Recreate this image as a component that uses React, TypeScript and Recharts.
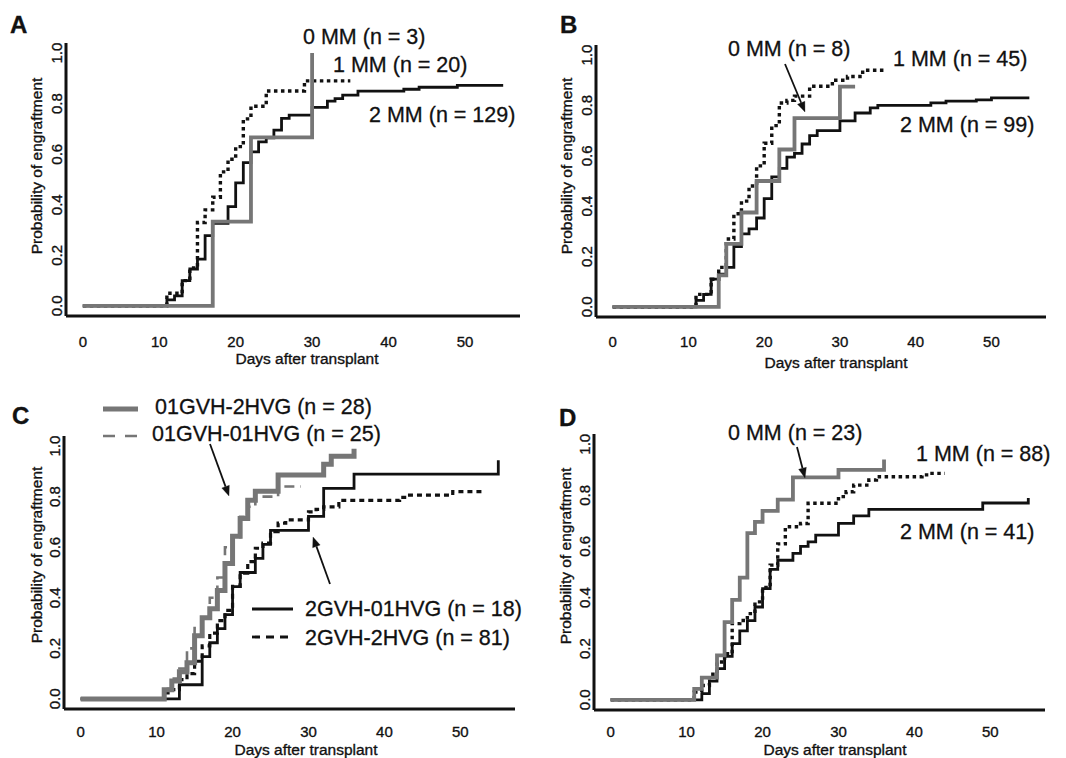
import { LineChart, Line, XAxis, YAxis } from "recharts"

// [day, probability] pairs
const a2mm: [number, number][] = [[0, 0], [11, 0.024], [12, 0.04], [13, 0.1], [14, 0.146], [15, 0.185], [16, 0.278], [17, 0.327], [19, 0.393], [20, 0.487], [21, 0.567], [22, 0.609], [23, 0.649], [24, 0.665], [25, 0.695], [26, 0.742], [27, 0.755], [30, 0.785], [32, 0.81], [33, 0.82], [34, 0.834], [36, 0.85], [42, 0.857], [44, 0.865], [49, 0.872], [55, 0.872]]
const a1mm: [number, number][] = [[0, 0], [11, 0.05], [13, 0.1], [14, 0.15], [15, 0.33], [16, 0.38], [17, 0.43], [18, 0.53], [19, 0.58], [20, 0.63], [21, 0.74], [22, 0.79], [24, 0.85], [29, 0.89], [35, 0.89]]
const a0mm: [number, number][] = [[0, 0], [17, 0.333], [22, 0.667], [30, 1]]

const b2mm: [number, number][] = [[0, 0], [11, 0.026], [12, 0.05], [13, 0.11], [14, 0.13], [15, 0.157], [16, 0.24], [17, 0.29], [18, 0.31], [19, 0.353], [20, 0.43], [21, 0.516], [22, 0.55], [23, 0.595], [24, 0.61], [25, 0.647], [26, 0.68], [27, 0.7], [30, 0.739], [32, 0.77], [34, 0.79], [35, 0.8], [42, 0.81], [44, 0.817], [48, 0.822], [50, 0.83], [55, 0.83]]
const b1mm: [number, number][] = [[0, 0], [11, 0.05], [13, 0.11], [14, 0.157], [15, 0.27], [16, 0.37], [17, 0.42], [18, 0.48], [19, 0.56], [20, 0.65], [21, 0.72], [22, 0.81], [23, 0.82], [24, 0.837], [26, 0.876], [29, 0.9], [31, 0.915], [33, 0.94], [36, 0.94]]
const b0mm: [number, number][] = [[0, 0], [14, 0.125], [15, 0.25], [17, 0.375], [19, 0.5], [22, 0.625], [24, 0.75], [30, 0.875], [32, 0.875]]

const c2gvh01hvg: [number, number][] = [[0, 0], [13, 0.056], [16, 0.167], [17, 0.222], [18, 0.278], [19, 0.333], [20, 0.444], [21, 0.5], [23, 0.556], [24, 0.611], [25, 0.667], [30, 0.722], [32, 0.833], [36, 0.889], [55, 0.944]]
const c2gvh2hvg: [number, number][] = [[0, 0], [11, 0.024], [12, 0.037], [13, 0.076], [14, 0.1], [15, 0.149], [16, 0.21], [17, 0.26], [18, 0.31], [19, 0.35], [20, 0.445], [21, 0.497], [22, 0.543], [23, 0.596], [24, 0.616], [25, 0.662], [26, 0.695], [27, 0.708], [30, 0.74], [31, 0.75], [32, 0.76], [34, 0.785], [42, 0.797], [43, 0.806], [49, 0.82], [53, 0.82]]
const c01gvh2hvg: [number, number][] = [[0, 0], [11, 0.036], [12, 0.071], [13, 0.107], [14, 0.143], [15, 0.25], [16, 0.321], [17, 0.357], [18, 0.429], [19, 0.536], [20, 0.643], [21, 0.714], [22, 0.786], [23, 0.821], [26, 0.886], [32, 0.928], [33, 0.96], [36, 0.99]]
const c01gvh01hvg: [number, number][] = [[0, 0], [11, 0.04], [12, 0.08], [13, 0.12], [14, 0.2], [15, 0.28], [16, 0.32], [17, 0.4], [18, 0.48], [19, 0.6], [20, 0.64], [21, 0.72], [22, 0.76], [23, 0.8], [26, 0.84], [29, 0.84]]

const d2mm: [number, number][] = [[0, 0], [12, 0.024], [13, 0.073], [14, 0.122], [15, 0.17], [16, 0.22], [17, 0.27], [18, 0.31], [19, 0.363], [20, 0.435], [21, 0.51], [22, 0.546], [24, 0.573], [25, 0.6], [26, 0.618], [27, 0.644], [30, 0.69], [32, 0.72], [34, 0.745], [49, 0.77], [55, 0.79]]
const d1mm: [number, number][] = [[0, 0], [11, 0.03], [12, 0.056], [13, 0.1], [14, 0.148], [15, 0.18], [16, 0.298], [17, 0.31], [18, 0.337], [19, 0.383], [20, 0.44], [21, 0.527], [22, 0.61], [23, 0.677], [25, 0.69], [26, 0.769], [30, 0.795], [31, 0.814], [32, 0.84], [34, 0.86], [35, 0.873], [41, 0.88], [42, 0.886], [44, 0.886]]
const d0mm: [number, number][] = [[0, 0], [11, 0.043], [12, 0.087], [14, 0.174], [15, 0.304], [16, 0.391], [17, 0.478], [18, 0.652], [19, 0.696], [20, 0.739], [22, 0.783], [24, 0.87], [30, 0.9], [36, 0.94]]

const xTicks = [0, 10, 20, 30, 40, 50]
const yTicks = [0, 0.2, 0.4, 0.6, 0.8, 1.0]

const FONT = "'Liberation Sans', Arial, sans-serif"
const BLACK = "#111"
const GRAY = "#767676"

type Series = { pts: [number, number][]; color: string; width: number; dash?: string }

const solid = (pts: [number, number][]): Series => ({ pts, color: BLACK, width: 2.8 })
const dotted = (pts: [number, number][]): Series => ({ pts, color: BLACK, width: 3.4, dash: "3.5 3.5" })
const grayLine = (pts: [number, number][], width = 3.8): Series => ({ pts, color: GRAY, width })

const toRows = (pts: [number, number][]) => pts.map(([day, p]) => ({ day, p }))

type Frame = {
  left: number; top: number; bottom: number; right: number
  tickBase: number; titleBase: number; titleX: number
  yTitleX: number; yTitleY: number
  letter: string; letterX: number; letterBase: number
}

// scanned text looks heavier than plain regular weight
const heavy = { stroke: BLACK, strokeWidth: 0.35 }

function Panel({ frame, series, children }: { frame: Frame; series: Series[]; children?: any }) {
  const f = frame
  return (
    <div style={{ position: "relative", width: 533, height: 379 }}>
      <LineChart
        width={533}
        height={379}
        margin={{ top: f.top, right: 533 - f.right, bottom: 379 - f.bottom - 40, left: 0 }}
      >
        <XAxis
          type="number"
          dataKey="day"
          domain={[-2.2, 57.2]}
          ticks={xTicks}
          interval={0}
          allowDataOverflow
          height={40}
          tickLine={false}
          axisLine={{ stroke: BLACK, strokeWidth: 3 }}
          tick={(p: any) => (
            <text x={p.x} y={f.tickBase} textAnchor="middle" fontSize={15} fontFamily={FONT} fill={BLACK} {...heavy}>
              {p.payload.value}
            </text>
          )}
        />
        <YAxis
          type="number"
          dataKey="p"
          domain={[-0.04, 1.04]}
          ticks={yTicks}
          interval={0}
          allowDataOverflow
          width={f.left}
          tickLine={false}
          axisLine={{ stroke: BLACK, strokeWidth: 3 }}
          tick={(p: any) => (
            <text
              transform={`translate(${f.left - 4},${p.y}) rotate(-90)`}
              textAnchor="middle"
              fontSize={15}
              fontFamily={FONT}
              fill={BLACK}
              {...heavy}
            >
              {Number(p.payload.value).toFixed(1)}
            </text>
          )}
        />
        {series.map((s, i) => (
          <Line
            key={i}
            data={toRows(s.pts)}
            dataKey="p"
            type="stepAfter"
            stroke={s.color}
            strokeWidth={s.width}
            strokeDasharray={s.dash}
            dot={false}
            activeDot={false}
            isAnimationActive={false}
          />
        ))}
      </LineChart>
      <svg
        width={533}
        height={379}
        style={{ position: "absolute", left: 0, top: 0, overflow: "visible", pointerEvents: "none" }}
        fontFamily={FONT}
        fill={BLACK}
      >
        <text x={f.letterX} y={f.letterBase} fontSize={24} fontWeight="bold" {...heavy}>{f.letter}</text>
        <text x={f.titleX} y={f.titleBase} fontSize={15.5} textAnchor="middle" {...heavy}>Days after transplant</text>
        <text transform={`translate(${f.yTitleX},${f.yTitleY}) rotate(-90)`} fontSize={15.5} textAnchor="middle" {...heavy}>
          Probability of engraftment
        </text>
        <g {...heavy} strokeWidth={0.3}>{children}</g>
      </svg>
    </div>
  )
}

function Arrow({ x1, y1, x2, y2 }: { x1: number; y1: number; x2: number; y2: number }) {
  const a = Math.atan2(y2 - y1, x2 - x1)
  const len = 10
  const w = 4
  const bx = x2 - len * Math.cos(a)
  const by = y2 - len * Math.sin(a)
  const px = -Math.sin(a) * w
  const py = Math.cos(a) * w
  return (
    <g>
      <line x1={x1} y1={y1} x2={bx} y2={by} stroke={BLACK} strokeWidth={1.8} />
      <polygon points={`${x2},${y2} ${bx + px},${by + py} ${bx - px},${by - py}`} fill={BLACK} />
    </g>
  )
}

const LBL = 21.5

export default function App() {
  return (
    <div style={{ position: "absolute", left: 0, top: 0, width: 1066, height: 758, background: "#fff" }}>
      <div style={{ position: "absolute", left: 0, top: 0 }}>
        <Panel
          frame={{ left: 66, top: 43, bottom: 316, right: 520, tickBase: 347, titleBase: 364, titleX: 307, yTitleX: 42, yTitleY: 166, letter: "A", letterX: 10, letterBase: 33 }}
          series={[solid(a2mm), dotted(a1mm), grayLine(a0mm)]}
        >
          <text x={303} y={44} fontSize={LBL}>0 MM (n = 3)</text>
          <text x={333} y={72} fontSize={LBL}>1 MM (n = 20)</text>
          <text x={369} y={122} fontSize={LBL}>2 MM (n = 129)</text>
        </Panel>
      </div>
      <div style={{ position: "absolute", left: 533, top: 0 }}>
        <Panel
          frame={{ left: 63, top: 45, bottom: 317, right: 513, tickBase: 347, titleBase: 368, titleX: 303, yTitleX: 39, yTitleY: 166, letter: "B", letterX: 27, letterBase: 33 }}
          series={[solid(b2mm), dotted(b1mm), grayLine(b0mm)]}
        >
          <text x={195} y={56} fontSize={LBL}>0 MM (n = 8)</text>
          <text x={360} y={66} fontSize={LBL}>1 MM (n = 45)</text>
          <text x={367} y={132} fontSize={LBL}>2 MM (n = 99)</text>
          <Arrow x1={252} y1={64} x2={272} y2={112} />
        </Panel>
      </div>
      <div style={{ position: "absolute", left: 0, top: 379 }}>
        <Panel
          frame={{ left: 64, top: 57, bottom: 330, right: 515, tickBase: 358, titleBase: 376, titleX: 306, yTitleX: 42, yTitleY: 176, letter: "C", letterX: 12, letterBase: 45 }}
          series={[
            solid(c2gvh01hvg),
            { pts: c2gvh2hvg, color: BLACK, width: 3.2, dash: "5 4" },
            { pts: c01gvh01hvg, color: GRAY, width: 2.6, dash: "10 6" },
            grayLine(c01gvh2hvg, 5),
          ]}
        >
          <line x1={103} y1={30} x2={138} y2={30} stroke={GRAY} strokeWidth={5} />
          <text x={155} y={35} fontSize={LBL}>01GVH-2HVG (n = 28)</text>
          <line x1={103} y1={57} x2={138} y2={57} stroke={GRAY} strokeWidth={2.6} strokeDasharray="12 10" />
          <text x={152} y={62} fontSize={LBL}>01GVH-01HVG (n = 25)</text>
          <Arrow x1={210} y1={65} x2={229} y2={117} />
          <Arrow x1={330} y1={205} x2={313} y2={158} />
          <line x1={252} y1={230} x2={293} y2={230} stroke={BLACK} strokeWidth={2.8} />
          <text x={305} y={237} fontSize={LBL}>2GVH-01HVG (n = 18)</text>
          <line x1={252} y1={258} x2={293} y2={258} stroke={BLACK} strokeWidth={2.8} strokeDasharray="8 6" />
          <text x={305} y={266} fontSize={LBL}>2GVH-2HVG (n = 81)</text>
        </Panel>
      </div>
      <div style={{ position: "absolute", left: 533, top: 379 }}>
        <Panel
          frame={{ left: 61, top: 55, bottom: 331, right: 512, tickBase: 358, titleBase: 376, titleX: 302, yTitleX: 38, yTitleY: 177, letter: "D", letterX: 26, letterBase: 47 }}
          series={[solid(d2mm), dotted(d1mm), grayLine(d0mm)]}
        >
          <text x={195} y={61} fontSize={LBL}>0 MM (n = 23)</text>
          <Arrow x1={264} y1={68} x2={272} y2={99} />
          <text x={383} y={82} fontSize={LBL}>1 MM (n = 88)</text>
          <text x={367} y={160} fontSize={LBL}>2 MM (n = 41)</text>
        </Panel>
      </div>
    </div>
  )
}
